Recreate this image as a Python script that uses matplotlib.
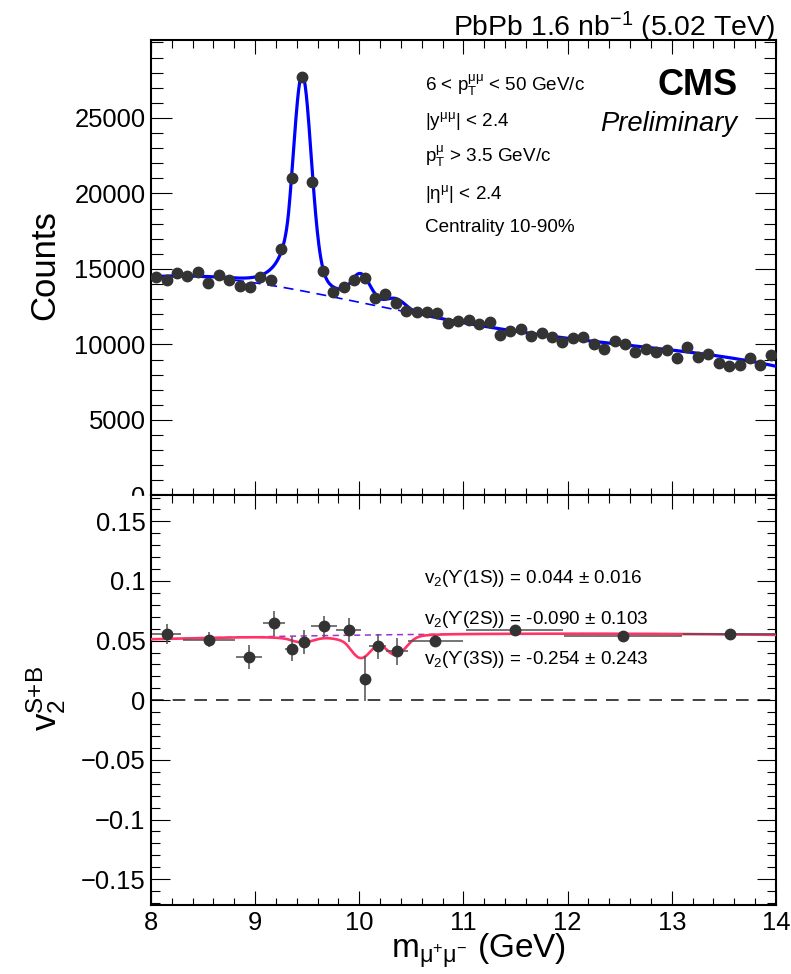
import numpy as np
import matplotlib
matplotlib.use("Agg")
import matplotlib.pyplot as plt
from matplotlib.patches import Rectangle
from matplotlib.ticker import MultipleLocator

plt.rcParams['font.family'] = ['Liberation Sans', 'DejaVu Sans']
plt.rcParams['mathtext.fontset'] = 'custom'
plt.rcParams['mathtext.rm'] = 'Liberation Sans'
plt.rcParams['mathtext.it'] = 'Liberation Sans:italic'
plt.rcParams['mathtext.bf'] = 'Liberation Sans:bold'

# dimuon invariant mass spectrum, 0.1 GeV bins from 8 to 14 GeV
bin_edges = np.linspace(8.0, 14.0, 61)
counts = [14450, 14272, 14715, 14536, 14781, 14093, 14583, 14272, 13874, 13828,
          14450, 14272, 16325, 21046, 27695, 20742, 14887, 13497, 13828, 14272,
          14384, 13100, 13344, 12728, 12238, 12172, 12172, 12106, 11404, 11556,
          11623, 11338, 11470, 10629, 10914, 11026, 10583, 10742, 10477, 10146,
          10450, 10477, 10033, 9682, 10252, 10053, 9503, 9702, 9483, 9636,
          9126, 9815, 9172, 9391, 8755, 8596, 8642, 9126, 8623, 9285]

# v2 of S+B in mass bins
v2_mass = [8.15, 8.56, 8.94, 9.18, 9.35, 9.47, 9.66, 9.90, 10.05, 10.175,
           10.36, 10.73, 11.49, 12.53, 13.56]
v2_mass_err = [0.14, 0.25, 0.125, 0.104, 0.065, 0.04, 0.123, 0.12, 0.04, 0.085,
               0.107, 0.265, 0.47, 0.565, 0.45]
v2_vals = [0.0558, 0.0508, 0.0363, 0.0647, 0.0432, 0.0488, 0.0622, 0.0591, 0.0181, 0.0452,
           0.0410, 0.0497, 0.0588, 0.0540, 0.0555]
v2_errs = [0.0084, 0.0063, 0.0098, 0.0105, 0.0102, 0.0098, 0.0088, 0.0102, 0.0190, 0.0107,
           0.0114, 0.0050, 0.0035, 0.0030, 0.0040]

# fit
bkg_mass = [8.0, 8.3, 8.6, 9.0, 9.5, 10.0, 10.5, 11.0, 12.0, 13.0, 14.0]
bkg_counts = [14385, 14530, 14450, 14160, 13390, 12730, 12070, 11480, 10500, 9540, 8580]
states = ['1S', '2S', '3S']
peak_mass = [9.452, 10.012, 10.350]
peak_amp = [14300, 1850, 700]
v2_sig = [0.044, -0.090, -0.254]
v2_sig_err = [0.016, 0.103, 0.243]


def crystal_ball(x, m, s, alpha=1.5, n=2.0):
    t = (x - m) / s
    a = (n / alpha) ** n * np.exp(-alpha ** 2 / 2)
    b = n / alpha - alpha
    out = np.exp(-t ** 2 / 2)
    tail = t < -alpha
    out[tail] = a / (b - t[tail]) ** n
    return out


def signal(x, m, amp):
    s = 0.085 * m / peak_mass[0]
    sw = 0.20 * m / peak_mass[0]
    return amp * (0.91 * crystal_ball(x, m, s) + 0.09 * np.exp(-0.5 * ((x - m) / sw) ** 2))


xs = np.linspace(8, 14, 1200)
bkg_coef = np.polyfit(np.array(bkg_mass) - 11, bkg_counts, 4)
bkg = np.polyval(bkg_coef, xs - 11)
sigs = [signal(xs, m, a) for m, a in zip(peak_mass, peak_amp)]
total = bkg + sum(sigs)

v2_bkg = 0.0555 + 0.0006 * (xs - 11) - 0.000278 * (xs - 11) ** 2
v2_total = (bkg * v2_bkg + sum(s * v for s, v in zip(sigs, v2_sig))) / total

centers = 0.5 * (bin_edges[1:] + bin_edges[:-1])

fig = plt.figure(figsize=(7.91, 9.74), dpi=100)
ax1 = fig.add_axes([0.1909, 0.4913, 0.7901, 0.4676])
ax2 = fig.add_axes([0.1909, 0.0708, 0.7901, 0.4205])

dark = '#333333'

# top panel
ax1.plot(xs, bkg, color='#0000ff', lw=1.2, ls=(0, (6, 4)), zorder=2)
ax1.plot(xs, total, color='#0000ff', lw=2.3, zorder=3)
ax1.plot(centers, counts, 'o', color=dark, ms=7.5, zorder=4)
ax1.set_xlim(8, 14)
ax1.set_ylim(0, 30160)
ax1.set_yticks([0, 5000, 10000, 15000, 20000, 25000])
ax1.yaxis.set_minor_locator(MultipleLocator(1000))
ax1.xaxis.set_major_locator(MultipleLocator(1))
ax1.xaxis.set_minor_locator(MultipleLocator(0.2))
ax1.set_xticklabels([])

# bottom panel
ax2.axhline(0, color=dark, lw=1.3, ls=(0, (7, 5)), zorder=1)
ax2.plot(xs, v2_bkg, color='#9933cc', lw=1.1, ls=(0, (4, 3)), zorder=2)
ax2.plot(xs, v2_total, color='#ff3366', lw=1.9, zorder=3)
ax2.errorbar(v2_mass, v2_vals, xerr=v2_mass_err, yerr=v2_errs, fmt='o', color=dark,
             ecolor='#505050', elinewidth=1.1, ms=7.5, capsize=0, zorder=4)
ax2.set_xlim(8, 14)
ax2.set_ylim(-0.1717, 0.1717)
ax2.xaxis.set_minor_locator(MultipleLocator(0.2))
ax2.yaxis.set_minor_locator(MultipleLocator(0.01))
ax2.set_yticks([-0.15, -0.1, -0.05, 0, 0.05, 0.1, 0.15])
ax2.set_yticklabels(['\u22120.15', '\u22120.1', '\u22120.05', '0', '0.05', '0.1', '0.15'])
ax2.set_xticks(range(8, 15))
ax2.set_xticklabels([str(v) for v in range(8, 15)])

for ax in (ax1, ax2):
    for sp in ax.spines.values():
        sp.set_linewidth(1.5)
    ax.tick_params(which='both', direction='in', top=True, right=True, width=0.8,
                   labelsize=18.4, pad=4)
    ax.tick_params(axis='x', which='major', length=10, pad=4)
    ax.tick_params(axis='x', which='minor', length=5.4)
ax1.tick_params(axis='y', which='major', length=15)
ax1.tick_params(axis='y', which='minor', length=8.6)
ax2.tick_params(axis='y', which='major', length=13.5)
ax2.tick_params(axis='y', which='minor', length=6.5)

# hide lower half of the top panel's "0" label
fig.add_artist(Rectangle((50 / 791, 1 - 506 / 974), 97 / 791, 10.5 / 974,
                         transform=fig.transFigure, color='white', zorder=10))

# labels
fig.text(45 / 791, 1 - 265 / 974, 'Counts', rotation=90, fontsize=25,
         ha='center', va='center')
fig.text(46 / 791, 1 - 698 / 974, r'v$_{2}^{\text{S+B}}$', rotation=90, fontsize=25,
         ha='center', va='center')
fig.text(479 / 791, 1 - 959 / 974, r'm$_{\mathrm{\mu^{+}\mu^{-}}}$ (GeV)', fontsize=24,
         ha='center', va='baseline')
fig.text(775 / 791, 1 - 36 / 974, r'PbPb 1.6 nb$^{-1}$ (5.02 TeV)', fontsize=20.4,
         ha='right', va='baseline')
fig.text(738 / 791, 1 - 95 / 974, 'CMS', fontsize=26, fontweight='bold',
         ha='right', va='baseline')
fig.text(737 / 791, 1 - 131 / 974, 'Preliminary', fontsize=19.7, style='italic',
         ha='right', va='baseline')

cut_lines = [
    (91, r'6 < p$_{\mathrm{T}}^{\mathrm{\mu\mu}}$ < 50 GeV/c'),
    (126, r'|y$^{\mathrm{\mu\mu}}$| < 2.4'),
    (162, r'p$_{\mathrm{T}}^{\mathrm{\mu}}$ > 3.5 GeV/c'),
    (199, r'|η$^{\mathrm{\mu}}$| < 2.4'),
    (232, 'Centrality 10-90%'),
]
for yb, txt in cut_lines:
    fig.text(425 / 791, 1 - yb / 974, txt, fontsize=13.6, ha='left', va='baseline')

for yb, st, v, e in zip([583, 624, 664], states, v2_sig, v2_sig_err):
    fig.text(424 / 791, 1 - yb / 974,
             r'v$_{2}$' + '(\u03d2(%s)) = %.3f \u00b1 %.3f' % (st, v, e),
             fontsize=13.6, ha='left', va='baseline')

fig.savefig('out.png', dpi=100)
